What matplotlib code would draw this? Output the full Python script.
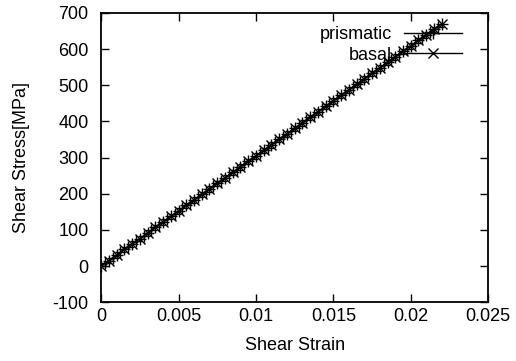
import matplotlib.pyplot as plt

plt.rcParams['font.family'] = ['Liberation Sans', 'DejaVu Sans']
plt.rcParams['axes.unicode_minus'] = False

# prismatic: dense sampling
prismatic_strain = [0.0, 0.00025, 0.0005, 0.00075, 0.001, 0.00125, 0.0015, 0.00175, 0.002, 0.00225,
                    0.0025, 0.00275, 0.003, 0.00325, 0.0035, 0.00375, 0.004, 0.00425, 0.0045, 0.00475,
                    0.005, 0.00525, 0.0055, 0.00575, 0.006, 0.00625, 0.0065, 0.00675, 0.007, 0.00725,
                    0.0075, 0.00775, 0.008, 0.00825, 0.0085, 0.00875, 0.009, 0.00925, 0.0095, 0.00975,
                    0.01, 0.01025, 0.0105, 0.01075, 0.011, 0.01125, 0.0115, 0.01175, 0.012, 0.01225,
                    0.0125, 0.01275, 0.013, 0.01325, 0.0135, 0.01375, 0.014, 0.01425, 0.0145, 0.01475,
                    0.015, 0.01525, 0.0155, 0.01575, 0.016, 0.01625, 0.0165, 0.01675, 0.017, 0.01725,
                    0.0175, 0.01775, 0.018, 0.01825, 0.0185, 0.01875, 0.019, 0.01925, 0.0195, 0.01975,
                    0.02, 0.02025, 0.0205, 0.02075, 0.021, 0.02125, 0.0215, 0.02175, 0.022]
prismatic_stress = [0.0, 7.6, 15.2, 22.8, 30.5, 38.1, 45.7, 53.3, 60.9, 68.5,
                    76.1, 83.7, 91.4, 99.0, 106.6, 114.2, 121.8, 129.4, 137.0, 144.6,
                    152.3, 159.9, 167.5, 175.1, 182.7, 190.3, 197.9, 205.5, 213.2, 220.8,
                    228.4, 236.0, 243.6, 251.2, 258.8, 266.4, 274.1, 281.7, 289.3, 296.9,
                    304.5, 312.1, 319.7, 327.3, 335.0, 342.6, 350.2, 357.8, 365.4, 373.0,
                    380.6, 388.2, 395.9, 403.5, 411.1, 418.7, 426.3, 433.9, 441.5, 449.1,
                    456.8, 464.4, 472.0, 479.6, 487.2, 494.8, 502.4, 510.0, 517.7, 525.3,
                    532.9, 540.5, 548.1, 555.7, 563.3, 570.9, 578.6, 586.2, 593.8, 601.4,
                    609.0, 616.6, 624.2, 631.8, 639.5, 647.1, 654.7, 662.3, 669.9]

# basal
basal_strain = [0.0, 0.0005, 0.001, 0.0015, 0.002, 0.0025, 0.003, 0.0035, 0.004, 0.0045,
                0.005, 0.0055, 0.006, 0.0065, 0.007, 0.0075, 0.008, 0.0085, 0.009, 0.0095,
                0.01, 0.0105, 0.011, 0.0115, 0.012, 0.0125, 0.013, 0.0135, 0.014, 0.0145,
                0.015, 0.0155, 0.016, 0.0165, 0.017, 0.0175, 0.018, 0.0185, 0.019, 0.0195,
                0.02, 0.0205, 0.021, 0.0215, 0.022]
basal_stress = [0.0, 15.2, 30.5, 45.7, 60.9, 76.1, 91.4, 106.6, 121.8, 137.0,
                152.3, 167.5, 182.7, 197.9, 213.2, 228.4, 243.6, 258.8, 274.1, 289.3,
                304.5, 319.7, 335.0, 350.2, 365.4, 380.6, 395.9, 411.1, 426.3, 441.5,
                456.8, 472.0, 487.2, 502.4, 517.7, 532.9, 548.1, 563.3, 578.6, 593.8,
                609.0, 624.2, 639.5, 654.7, 669.9]

xticks = [0, 0.005, 0.01, 0.015, 0.02, 0.025]
xticklabels = ["0", "0.005", "0.01", "0.015", "0.02", "0.025"]
yticks = [-100, 0, 100, 200, 300, 400, 500, 600, 700]

fig = plt.figure(figsize=(5.16, 3.61), dpi=100)
ax = fig.add_axes([0.196, 0.163, 0.75, 0.801])

ax.plot(prismatic_strain, prismatic_stress, color="k", lw=1, marker="+", ms=8, mew=1, label="prismatic")
ax.plot(basal_strain, basal_stress, color="k", lw=1, marker="x", ms=7, mew=1, label="basal")

ax.set_xlim(0, 0.025)
ax.set_ylim(-100, 700)
ax.set_xticks(xticks)
ax.set_xticklabels(xticklabels)
ax.set_yticks(yticks)
ax.tick_params(direction="in", length=6, width=1, top=True, right=True, labelsize=13)
ax.tick_params(axis="x", pad=4)
ax.tick_params(axis="y", pad=9)
for s in ax.spines.values():
    s.set_linewidth(1.3)

ax.set_xlabel("Shear Strain", fontsize=13, labelpad=9)
ax.set_ylabel("Shear Stress[MPa]", fontsize=13, labelpad=16)

ax.legend(loc="upper right", bbox_to_anchor=(0.956, 0.986), frameon=False, markerfirst=False,
          handlelength=3.2, handletextpad=0.7, labelspacing=0.2, borderpad=0, fontsize=13)

fig.savefig("out.png", dpi=100)
